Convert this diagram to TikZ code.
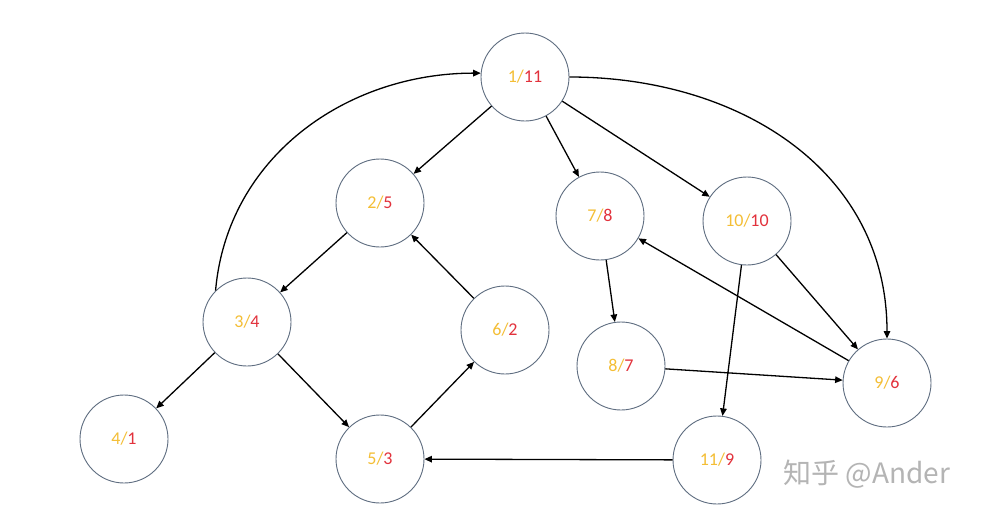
\documentclass[tikz,border=0pt]{standalone}
\usepackage{fontspec}
\setmainfont{Carlito}
\newfontfamily\cjk{Noto Sans CJK SC}
\usetikzlibrary{arrows.meta}
\definecolor{ny}{HTML}{F4BE35}
\definecolor{nr}{HTML}{E2323C}
\definecolor{nb}{HTML}{5E6D80}
\definecolor{wm}{HTML}{B4B4B4}
\tikzset{
  vtx/.style={circle, draw=nb, line width=0.9pt, minimum size=88pt, inner sep=0pt, font=\fontsize{18}{20}\selectfont},
  edge/.style={draw=black, line width=1.3pt, -{Triangle[length=7.5pt,width=6.5pt]}}
}
\newcommand{\lab}[2]{{\color{ny}#1/}{\color{nr}#2}}
\begin{document}
\begin{tikzpicture}[x=1pt,y=-1pt]
\useasboundingbox[fill=white] (0,0) rectangle (981,514);
\node[vtx] (n1) at (525,77) {\lab{1}{11}};
\node[vtx] (n2) at (380,203) {\lab{2}{5}};
\node[vtx] (n3) at (247,322) {\lab{3}{4}};
\node[vtx] (n4) at (124,439) {\lab{4}{1}};
\node[vtx] (n5) at (380,459) {\lab{5}{3}};
\node[vtx] (n6) at (505,330) {\lab{6}{2}};
\node[vtx] (n7) at (600,216) {\lab{7}{8}};
\node[vtx] (n8) at (621,366) {\lab{8}{7}};
\node[vtx] (n9) at (887,383) {\lab{9}{6}};
\node[vtx] (n10) at (747,221) {\lab{10}{10}};
\node[vtx] (n11) at (717,460) {\lab{11}{9}};
\node[font=\cjk\fontsize{28}{30}\selectfont, text=wm] (wm) at (867,474) {知乎\hspace{6pt}@Ander};
\path[edge] (n1) -- (n2);
\path[edge] (n1) -- (n7);
\path[edge] (n1) -- (n10);
\path[edge] (n1.east) to[out=0,in=90,looseness=1.05] (n9.north);
\path[edge] (n3.135) to[out=85,in=180,looseness=1.0] (n1.175);
\path[edge] (n2) -- (n3);
\path[edge] (n3) -- (n4);
\path[edge] (n3) -- (n5);
\path[edge] (n5) -- (n6);
\path[edge] (n6) -- (n2);
\path[edge] (n7) -- (n8);
\path[edge] (n8) -- (n9);
\path[edge] (n9) -- (n7);
\path[edge] (n10) -- (n9);
\path[edge] (n10) -- (n11);
\path[edge] (n11) -- (n5);
\end{tikzpicture}
\end{document}
